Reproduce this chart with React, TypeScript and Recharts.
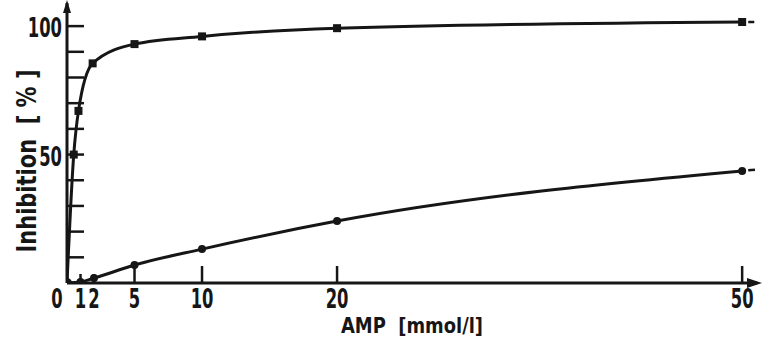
import React from 'react';
import { LineChart, Line, XAxis, YAxis, ReferenceDot, ReferenceLine, Label } from 'recharts';

// AMP concentration (mmol/l) and inhibition (%)
const ampUpper = [0, 0.5, 0.85, 1.9, 5, 10, 20, 50];
const inhibitionUpper = [0, 50, 67, 85.5, 93, 96, 99.2, 101.6];
const ampLower = [0, 1, 2, 5, 10, 20, 50];
const inhibitionLower = [0, 0.4, 1.9, 7, 13.2, 24.1, 43.6];

const xTicks = [0, 1, 2, 5, 10, 20, 50];
const yTicks = [10, 20, 30, 40, 50, 60, 70, 80, 90, 100];
const yLabelled = [50, 100];

const X_MAX = 51.1;
const Y_MAX = 109;

const upperData = ampUpper.map((x, i) => ({ x, y: inhibitionUpper[i] }));
const lowerData = ampLower.map((x, i) => ({ x, y: inhibitionLower[i] }));

const INK = '#161616';
const FONT = "'DejaVu Sans Condensed', 'DejaVu Sans', sans-serif";

// squeezed text to mimic the narrow lettering of the scan
const Narrow = ({ x, y, anchor = 'middle', size = 26, sx = 0.7, children }: any) => (
  <text
    transform={`translate(${x} ${y}) scale(${sx} 1)`}
    textAnchor={anchor}
    dominantBaseline="central"
    fontFamily={FONT}
    fontWeight="bold"
    fontSize={size}
    fill={INK}
  >
    {children}
  </text>
);

const XTick = (props: any) => {
  const { x, y, payload } = props;
  const v = payload.value as number;
  const len = v <= 2 ? 9 : 17;
  return (
    <g>
      {v !== 0 && <line x1={x} x2={x} y1={y} y2={y - len} stroke={INK} strokeWidth={2.5} />}
      <Narrow x={v === 0 ? x - 10 : x} y={y + 16}>
        {v}
      </Narrow>
    </g>
  );
};

const YTick = (props: any) => {
  const { x, y, payload } = props;
  const v = payload.value as number;
  return (
    <g>
      <line x1={x} x2={x + 17} y1={y} y2={y} stroke={INK} strokeWidth={2.5} />
      {yLabelled.includes(v) && (
        <Narrow x={x - 5} y={y + 2} anchor="end">
          {v}
        </Narrow>
      )}
    </g>
  );
};

const SquareDot = (props: any) => {
  const { cx, cy, index } = props;
  if (index === 0) return <g key={`sq-${index}`} />;
  return <rect key={`sq-${index}`} x={cx - 4} y={cy - 4} width={8} height={8} fill={INK} />;
};

const RoundDot = (props: any) => {
  const { cx, cy, index } = props;
  return <circle key={`rd-${index}`} cx={cx} cy={cy} r={index === 0 ? 5 : 4} fill={INK} />;
};

const RightArrow = (props: any) => {
  const { cx, cy } = props;
  return <path d={`M${cx - 10},${cy - 5} L${cx + 5},${cy} L${cx - 10},${cy + 5} Z`} fill={INK} />;
};

const UpArrow = (props: any) => {
  const { cx, cy } = props;
  return <path d={`M${cx - 4},${cy + 10} L${cx},${cy - 3} L${cx + 4},${cy + 10} Z`} fill={INK} />;
};

export default function App() {
  return (
    <div style={{ position: 'absolute', left: 0, top: 0, width: 762, height: 342, background: '#fff' }}>
      <LineChart width={762} height={342} margin={{ top: 3, right: 5, bottom: 0, left: 0 }}>
        <XAxis
          type="number"
          dataKey="x"
          domain={[0, X_MAX]}
          ticks={xTicks}
          height={59}
          tickSize={0}
          tickMargin={0}
          tick={<XTick />}
          axisLine={{ stroke: INK, strokeWidth: 3 }}
          interval={0}
          allowDataOverflow
        >
          <Label
            content={(p: any) => {
              const vb = p.viewBox;
              return (
                <text
                  x={vb.x + vb.width / 2}
                  y={vb.y + 42}
                  textAnchor="middle"
                  dominantBaseline="central"
                  fontFamily={FONT}
                  fontWeight="bold"
                  fontSize={22}
                  textLength={142}
                  lengthAdjust="spacingAndGlyphs"
                  fill={INK}
                  style={{ whiteSpace: 'pre' }}
                >
                  {'AMP  [mmol/l]'}
                </text>
              );
            }}
          />
        </XAxis>
        <YAxis
          type="number"
          dataKey="y"
          domain={[0, Y_MAX]}
          ticks={yTicks}
          width={67}
          tickSize={0}
          tickMargin={0}
          tick={<YTick />}
          axisLine={{ stroke: INK, strokeWidth: 3 }}
          interval={0}
          allowDataOverflow
        >
          <Label
            content={(p: any) => {
              const vb = p.viewBox;
              const cx = 26;
              const cy = vb.y + vb.height / 2 + 18;
              return (
                <text
                  x={cx}
                  y={cy}
                  transform={`rotate(-90 ${cx} ${cy})`}
                  textAnchor="middle"
                  dominantBaseline="central"
                  fontFamily={FONT}
                  fontWeight="bold"
                  fontSize={27}
                  textLength={183}
                  lengthAdjust="spacingAndGlyphs"
                  fill={INK}
                  style={{ whiteSpace: 'pre' }}
                >
                  {'Inhibition  [ % ]'}
                </text>
              );
            }}
          />
        </YAxis>
        <Line
          data={upperData}
          dataKey="y"
          type="monotone"
          stroke={INK}
          strokeWidth={3}
          dot={<SquareDot />}
          activeDot={false}
          isAnimationActive={false}
        />
        <Line
          data={lowerData}
          dataKey="y"
          type="monotone"
          stroke={INK}
          strokeWidth={3}
          dot={<RoundDot />}
          activeDot={false}
          isAnimationActive={false}
        />
        <ReferenceLine
          segment={[{ x: 50.45, y: 101.6 }, { x: 50.9, y: 101.6 }]}
          stroke={INK}
          strokeWidth={2.5}
          ifOverflow="visible"
        />
        <ReferenceLine
          segment={[{ x: 50.45, y: 43.9 }, { x: 50.95, y: 44.1 }]}
          stroke={INK}
          strokeWidth={2.5}
          ifOverflow="visible"
        />
        <ReferenceDot x={X_MAX} y={0} r={0} ifOverflow="visible" shape={<RightArrow />} />
        <ReferenceDot x={0} y={Y_MAX} r={0} ifOverflow="visible" shape={<UpArrow />} />
      </LineChart>
    </div>
  );
}
